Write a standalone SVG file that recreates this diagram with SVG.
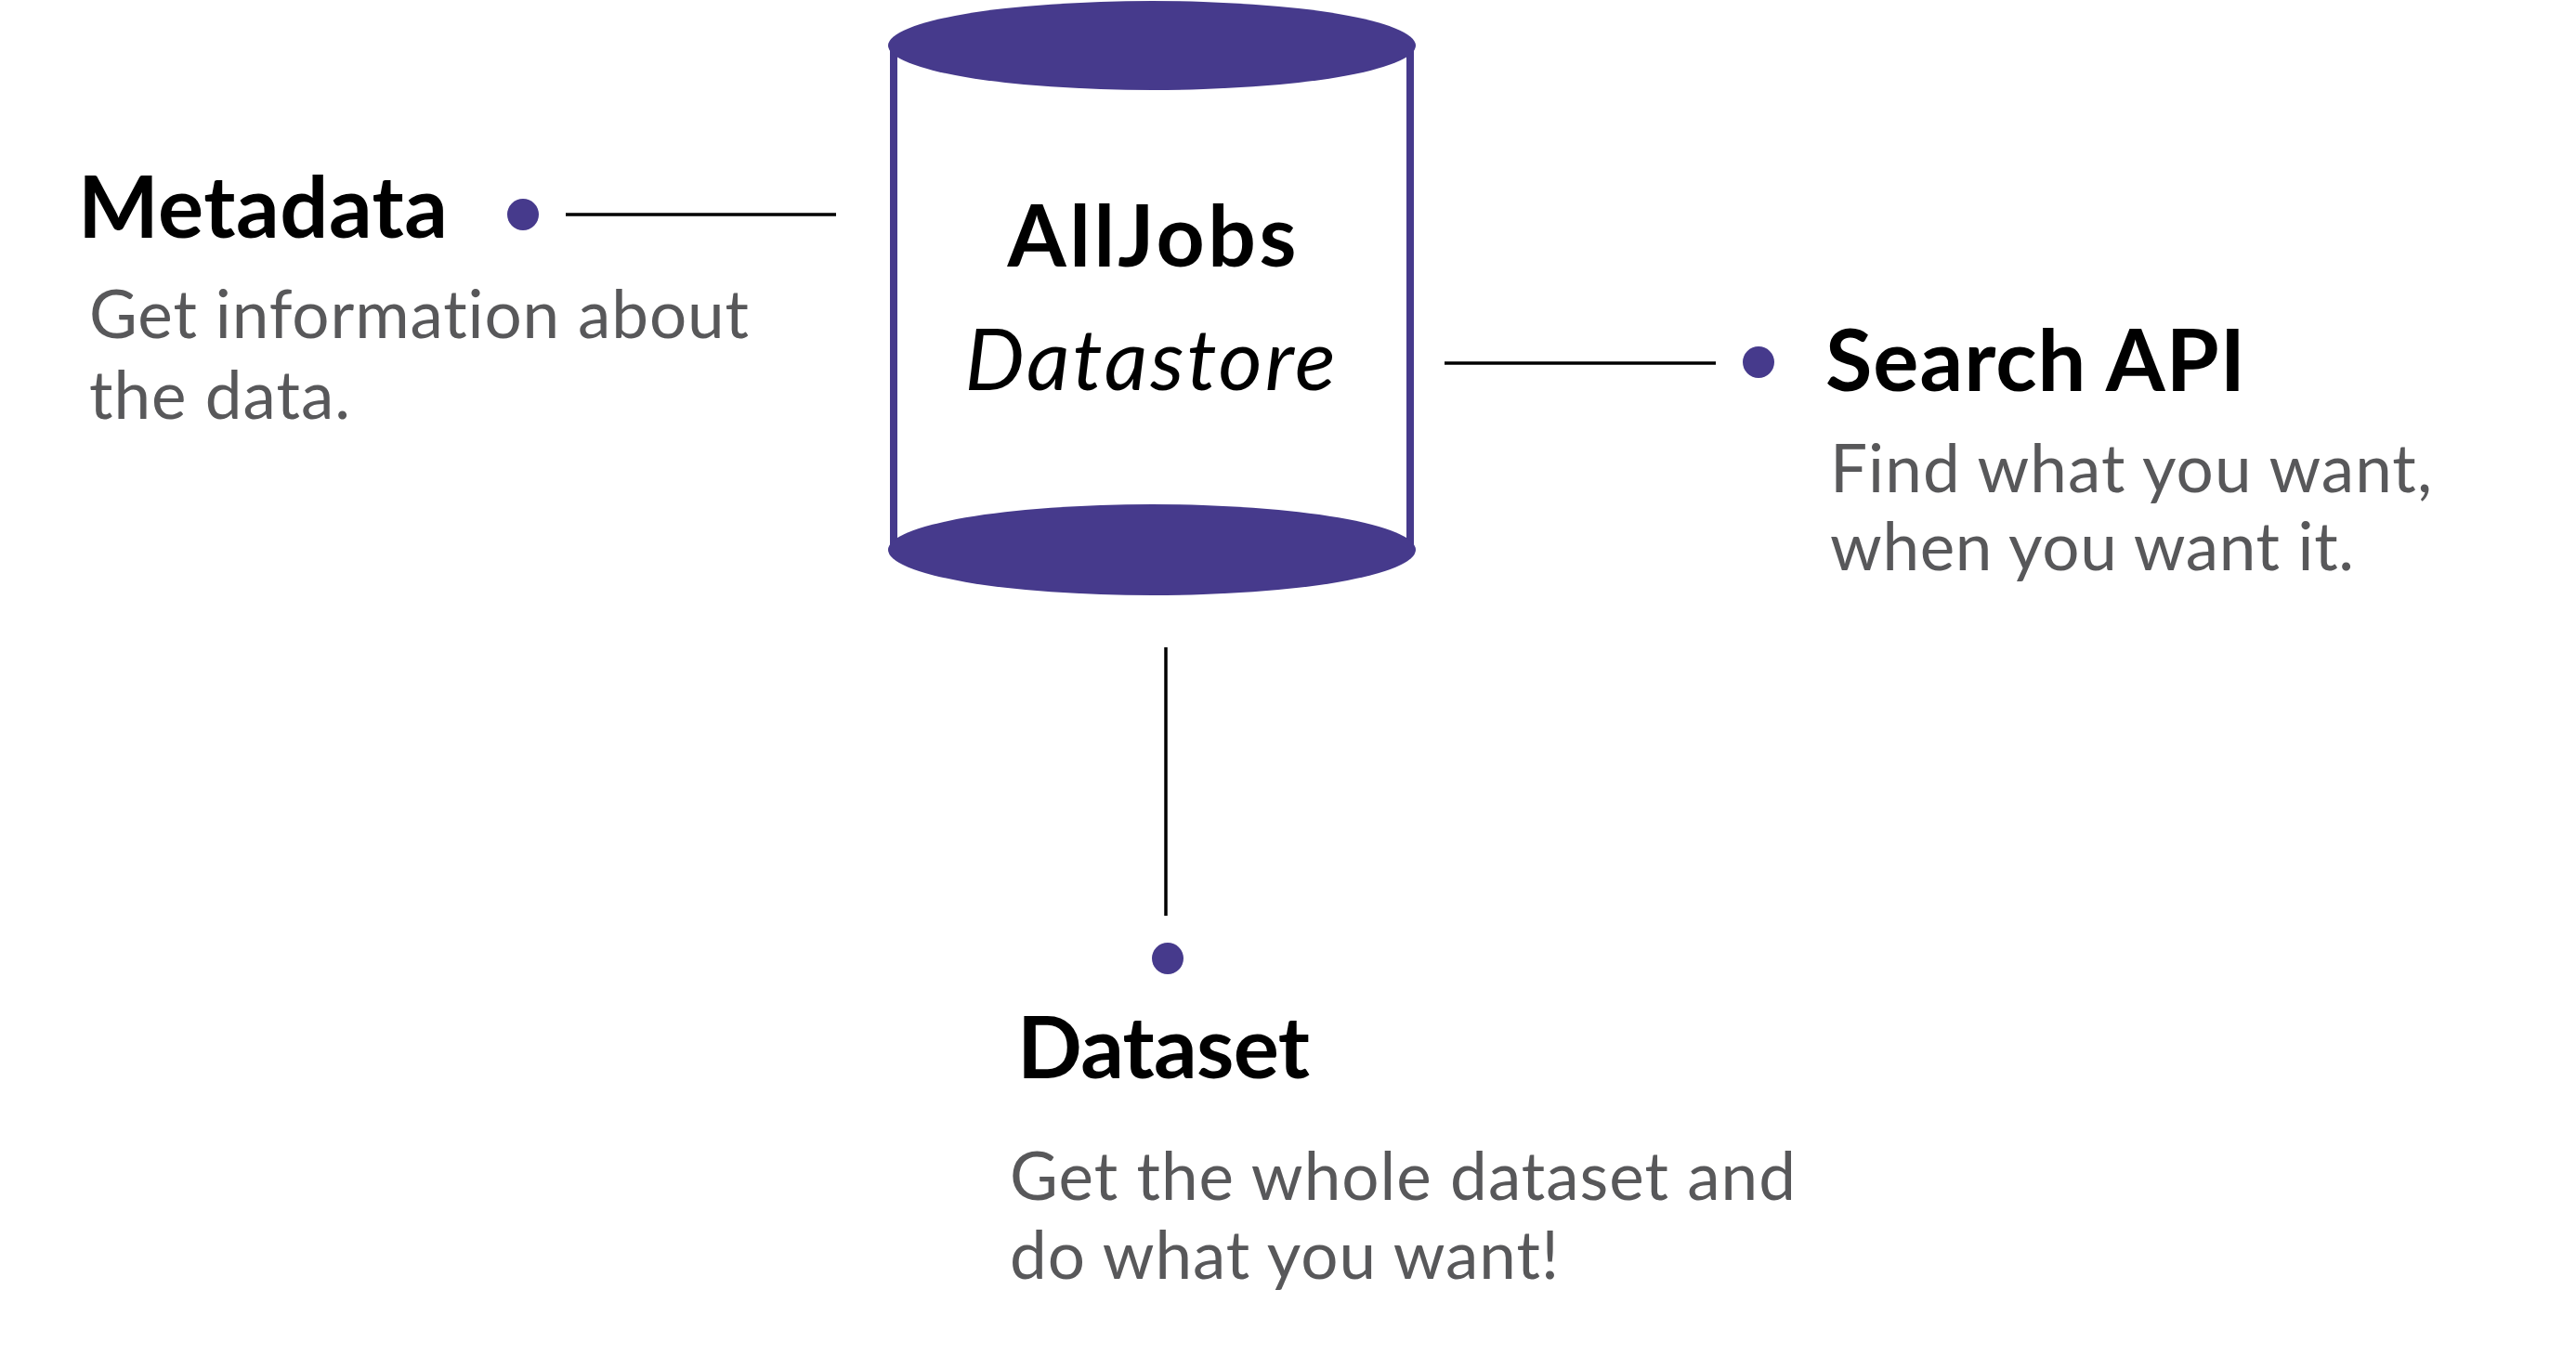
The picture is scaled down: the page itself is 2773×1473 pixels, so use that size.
<svg xmlns="http://www.w3.org/2000/svg" width="2773" height="1473" viewBox="0 0 2773 1473">
  <style>
    text { font-variant-ligatures: none; font-feature-settings: "liga" 0, "clig" 0; }
    .head { font-family: Lato, "Liberation Sans", sans-serif; font-weight: 700; font-size: 92px; fill: #000000; }
    .body { font-family: Lato, "Liberation Sans", sans-serif; font-weight: 400; font-size: 71px; fill: #58585a; }
    .title { font-family: Lato, "Liberation Sans", sans-serif; font-size: 91px; fill: #000000; text-anchor: middle; }
    .dot { fill: #463a8c; }
    .conn { stroke: #000000; stroke-width: 3.5; fill: none; }
    .cyl-side { stroke: #463a8c; stroke-width: 8; fill: #ffffff; }
    .cyl-cap { fill: #463a8c; }
  </style>
  <rect width="2773" height="1473" fill="#ffffff"/>

  <g id="connectors">
    <line class="conn" x1="609" y1="231" x2="900" y2="231"/>
    <line class="conn" x1="1555" y1="391" x2="1847" y2="391"/>
    <line class="conn" x1="1255" y1="697" x2="1255" y2="986"/>
  </g>

  <g id="datastore">
    <rect class="cyl-side" x="962" y="49" width="556" height="543"/>
    <ellipse class="cyl-cap" cx="1240" cy="49" rx="284" ry="48"/>
    <ellipse class="cyl-cap" cx="1240" cy="592" rx="284" ry="49"/>
    <text class="title" x="1240" y="287" font-weight="700" textLength="311">AllJobs</text>
    <text class="title" x="1238" y="420" font-weight="400" font-style="italic" textLength="399">Datastore</text>
  </g>

  <g id="metadata">
    <circle class="dot" cx="563" cy="231" r="17"/>
    <text class="head" x="84" y="256" textLength="398">Metadata</text>
    <text class="body" x="96" y="364" textLength="710">Get information about</text>
    <text class="body" x="96" y="451" textLength="281">the data.</text>
  </g>

  <g id="search-api">
    <circle class="dot" cx="1893" cy="390" r="17"/>
    <text class="head" x="1965" y="421" textLength="452">Search API</text>
    <text class="body" x="1970" y="530" textLength="648">Find what you want,</text>
    <text class="body" x="1970" y="614" textLength="564">when you want it.</text>
  </g>

  <g id="dataset">
    <circle class="dot" cx="1257" cy="1032" r="17"/>
    <text class="head" x="1095" y="1161" textLength="315">Dataset</text>
    <text class="body" x="1087" y="1292" textLength="846">Get the whole dataset and</text>
    <text class="body" x="1087" y="1377" textLength="591">do what you want!</text>
  </g>
</svg>
